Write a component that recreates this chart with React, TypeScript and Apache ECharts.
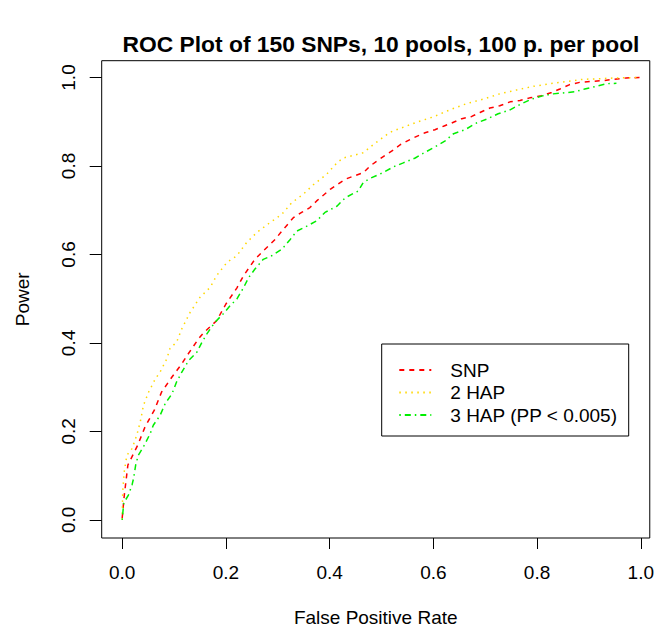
import React, { useEffect, useRef } from "react";
import * as echarts from "echarts";

// SNP (red, dashed)
const snpFpr = [0, 0.004, 0.011, 0.030, 0.044, 0.062, 0.076, 0.096, 0.115, 0.126, 0.147, 0.157, 0.182, 0.200, 0.221, 0.234, 0.256, 0.272, 0.295, 0.308, 0.330, 0.346, 0.362, 0.375, 0.401, 0.430, 0.446, 0.465, 0.478, 0.491, 0.507, 0.523, 0.536, 0.552, 0.568, 0.584, 0.603, 0.622, 0.635, 0.655, 0.674, 0.690, 0.709, 0.728, 0.748, 0.767, 0.786, 0.809, 0.828, 0.844, 0.863, 0.882, 0.902, 0.927, 0.947, 0.972, 1.0];
const snpPower = [0.004, 0.055, 0.124, 0.169, 0.21, 0.248, 0.289, 0.323, 0.353, 0.373, 0.409, 0.423, 0.45, 0.488, 0.524, 0.552, 0.589, 0.608, 0.634, 0.653, 0.683, 0.695, 0.706, 0.721, 0.747, 0.77, 0.777, 0.785, 0.8, 0.811, 0.824, 0.836, 0.848, 0.858, 0.867, 0.875, 0.882, 0.891, 0.897, 0.907, 0.912, 0.921, 0.931, 0.936, 0.945, 0.948, 0.954, 0.959, 0.966, 0.974, 0.984, 0.989, 0.991, 0.993, 0.996, 0.999, 1.0];

// 2 HAP (yellow, dotted)
const hap2Fpr = [0, 0.001, 0.004, 0.009, 0.019, 0.028, 0.035, 0.041, 0.051, 0.064, 0.073, 0.086, 0.092, 0.105, 0.115, 0.131, 0.150, 0.170, 0.182, 0.202, 0.221, 0.240, 0.260, 0.285, 0.308, 0.327, 0.349, 0.369, 0.394, 0.414, 0.426, 0.446, 0.465, 0.484, 0.516, 0.536, 0.568, 0.600, 0.632, 0.664, 0.696, 0.728, 0.761, 0.793, 0.825, 0.857, 0.889, 0.914, 0.95, 1.0];
const hap2Power = [0, 0.064, 0.109, 0.146, 0.161, 0.191, 0.222, 0.259, 0.289, 0.319, 0.334, 0.364, 0.387, 0.402, 0.432, 0.469, 0.503, 0.526, 0.552, 0.582, 0.597, 0.627, 0.65, 0.672, 0.691, 0.717, 0.736, 0.758, 0.781, 0.807, 0.818, 0.824, 0.83, 0.848, 0.876, 0.885, 0.899, 0.911, 0.927, 0.941, 0.951, 0.963, 0.972, 0.98, 0.986, 0.991, 0.996, 0.997, 0.999, 1.0];

// 3 HAP (green, dot-dash)
const hap3Fpr = [0, 0.003, 0.012, 0.019, 0.022, 0.026, 0.031, 0.041, 0.054, 0.060, 0.073, 0.083, 0.096, 0.105, 0.115, 0.128, 0.144, 0.154, 0.163, 0.179, 0.195, 0.208, 0.221, 0.234, 0.244, 0.256, 0.272, 0.288, 0.308, 0.324, 0.337, 0.356, 0.375, 0.391, 0.414, 0.430, 0.446, 0.455, 0.465, 0.478, 0.503, 0.523, 0.542, 0.565, 0.584, 0.603, 0.622, 0.639, 0.661, 0.683, 0.703, 0.725, 0.748, 0.767, 0.789, 0.812, 0.831, 0.850, 0.873, 0.892, 0.914, 0.934, 0.953];
const hap3Power = [0, 0.038, 0.056, 0.079, 0.094, 0.124, 0.146, 0.165, 0.195, 0.214, 0.236, 0.263, 0.285, 0.312, 0.334, 0.36, 0.379, 0.402, 0.42, 0.447, 0.466, 0.484, 0.499, 0.525, 0.548, 0.567, 0.589, 0.597, 0.612, 0.634, 0.653, 0.664, 0.676, 0.695, 0.709, 0.728, 0.738, 0.743, 0.763, 0.772, 0.785, 0.798, 0.807, 0.818, 0.831, 0.843, 0.856, 0.873, 0.882, 0.897, 0.906, 0.918, 0.927, 0.939, 0.951, 0.959, 0.963, 0.965, 0.968, 0.974, 0.98, 0.986, 0.987];

const tickValues = [0, 0.2, 0.4, 0.6, 0.8, 1.0];
const seriesNames = ["SNP", "2 HAP", "3 HAP (PP < 0.005)"];
const titleText = "ROC Plot of 150 SNPs, 10 pools, 100 p. per pool";
const xTitle = "False Positive Rate";
const yTitle = "Power";

export default function App() {
  const ref = useRef<HTMLDivElement>(null);
  useEffect(() => {
    const chart = echarts.init(ref.current!, null, { renderer: "svg" });
    const font = "Liberation Sans";
    const zip = (xs: number[], ys: number[]) => xs.map((x, i) => [x, ys[i]]);
    const mk = (name: string, data: number[][], color: string, dash: number[]) => ({
      name,
      type: "line",
      data,
      symbol: "none",
      showSymbol: false,
      smooth: false,
      lineStyle: { color, width: 1.5, type: dash },
      itemStyle: { color },
      emphasis: { disabled: true },
    });
    chart.setOption({
      animation: false,
      backgroundColor: "#ffffff",
      graphic: [
        {
          type: "text",
          x: 381,
          y: 44,
          style: {
            text: titleText,
            fill: "#000",
            font: `bold 22.8px "${font}"`,
            textAlign: "center",
            textVerticalAlign: "middle",
          },
        },
      ],
      grid: {
        left: 101.7,
        top: 60.7,
        right: 7,
        bottom: 92,
        show: true,
        borderColor: "#000",
        borderWidth: 1,
        backgroundColor: "transparent",
      },
      legend: {
        orient: "vertical",
        left: 381.7,
        top: 344,
        data: seriesNames,
        itemWidth: 32,
        itemHeight: 14,
        itemGap: 3.5,
        padding: [16.5, 11, 11.5, 16.6],
        borderColor: "#000",
        borderWidth: 1,
        borderRadius: 0,
        backgroundColor: "#fff",
        selectedMode: false,
        itemStyle: { opacity: 0 },
        textStyle: {
          fontSize: 19,
          fontFamily: font,
          color: "#000",
          lineHeight: 19,
          padding: [0, 0, 0, 14],
        },
      },
      xAxis: {
        type: "value",
        min: -0.0395,
        max: 1.0173,
        name: xTitle,
        nameLocation: "middle",
        nameGap: 70,
        nameTextStyle: { fontSize: 19, fontFamily: font, color: "#000" },
        axisLine: { show: false, onZero: false },
        axisTick: {
          show: true,
          inside: false,
          length: 11,
          customValues: tickValues,
          lineStyle: { color: "#000", width: 1 },
        },
        axisLabel: {
          customValues: tickValues,
          margin: 25,
          fontSize: 19,
          fontFamily: font,
          color: "#000",
          formatter: (v: number) => v.toFixed(1),
        },
        splitLine: { show: false },
      },
      yAxis: {
        type: "value",
        min: -0.041,
        max: 1.038,
        name: yTitle,
        nameLocation: "middle",
        nameGap: 70,
        nameTextStyle: { fontSize: 19, fontFamily: font, color: "#000" },
        axisLine: { show: false, onZero: false },
        axisTick: {
          show: true,
          inside: false,
          length: 12,
          customValues: tickValues,
          lineStyle: { color: "#000", width: 1 },
        },
        axisLabel: {
          customValues: tickValues,
          rotate: 90,
          margin: 24,
          fontSize: 19,
          fontFamily: font,
          color: "#000",
          formatter: (v: number) => v.toFixed(1),
        },
        splitLine: { show: false },
      },
      series: [
        mk(seriesNames[0], zip(snpFpr, snpPower), "#FF0000", [5, 5]),
        mk(seriesNames[1], zip(hap2Fpr, hap2Power), "#FFD700", [1.5, 4.5]),
        mk(seriesNames[2], zip(hap3Fpr, hap3Power), "#00EE00", [1.5, 4, 6, 4]),
      ],
    });
    return () => chart.dispose();
  }, []);
  return (
    <div
      ref={ref}
      style={{ position: "fixed", left: 0, top: 0, width: 657, height: 632 }}
    />
  );
}
